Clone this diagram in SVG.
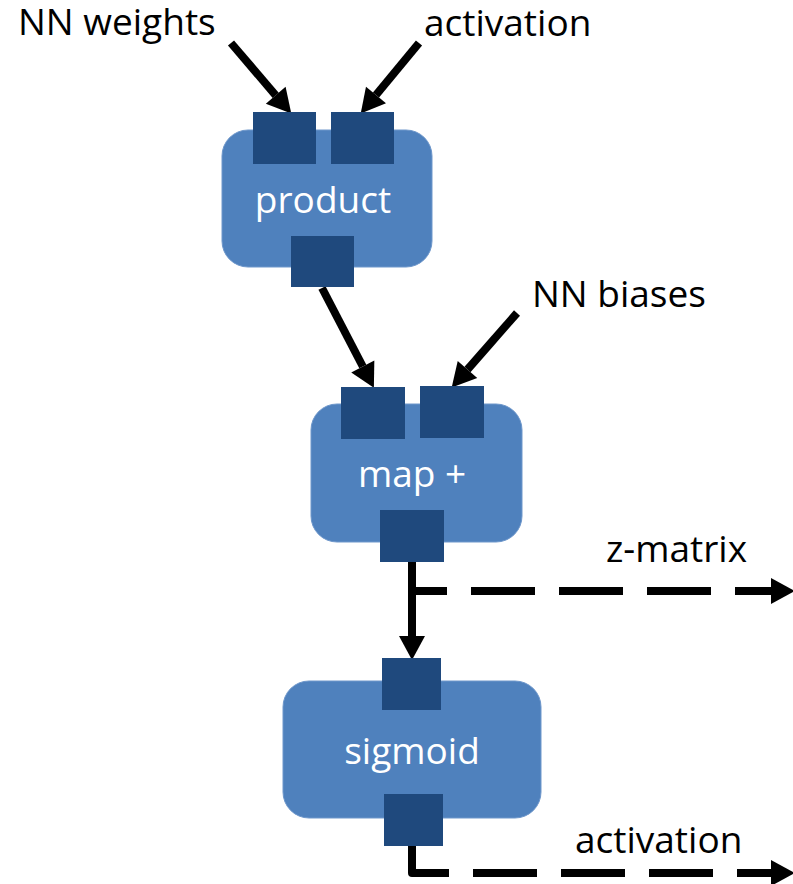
<svg xmlns="http://www.w3.org/2000/svg" width="793" height="884" viewBox="0 0 793 884">
  <style>
    .box { fill: #4F81BD; stroke: #6E97CB; stroke-width: 1; }
    .port { fill: #1F497D; }
    .label { font-family: "Open Sans", "Liberation Sans", sans-serif; font-size: 37px; fill: #000000; }
    .title { font-family: "Open Sans", "Liberation Sans", sans-serif; font-size: 37px; fill: #FFFFFF; text-anchor: middle; }
    .wire { fill: none; stroke: #000000; stroke-width: 8; }
    .dashed { fill: none; stroke: #000000; stroke-width: 8; stroke-dasharray: 64 24; stroke-linejoin: round; }
  </style>
  <defs>
    <marker id="head" markerUnits="userSpaceOnUse" markerWidth="26" markerHeight="28" refX="0" refY="13" orient="auto" overflow="visible">
      <path d="M0,0 L24,13 L0,26 z" fill="#000000"/>
    </marker>
  </defs>

  <!-- free-standing labels -->
  <text class="label" x="18" y="35">NN weights</text>
  <text class="label" x="424" y="36">activation</text>
  <text class="label" x="532" y="307">NN biases</text>
  <text class="label" x="606" y="562">z-matrix</text>
  <text class="label" x="575" y="853">activation</text>

  <!-- connectors -->
  <g id="connectors">
    <line class="wire" x1="231" y1="43" x2="275.7" y2="95.3" marker-end="url(#head)"/>
    <line class="wire" x1="419" y1="43" x2="376.0" y2="95.0" marker-end="url(#head)"/>
    <line class="wire" x1="322" y1="288" x2="362.8" y2="366.5" marker-end="url(#head)"/>
    <line class="wire" x1="517" y1="313" x2="467.5" y2="369.5" marker-end="url(#head)"/>
    <line class="wire" x1="412" y1="560" x2="412" y2="636" marker-end="url(#head)"/>
    <path class="dashed" d="M412,562 V591 H771" marker-end="url(#head)"/>
    <path class="dashed" d="M412,846 V873 H771" marker-end="url(#head)"/>
  </g>

  <!-- product node -->
  <g id="product">
    <rect class="box" x="222" y="130" width="210" height="137" rx="26"/>
    <rect class="port" x="253" y="112" width="63" height="52"/>
    <rect class="port" x="331" y="112" width="63" height="52"/>
    <rect class="port" x="291" y="236" width="63" height="51"/>
    <text class="title" x="323" y="213">product</text>
  </g>

  <!-- map + node -->
  <g id="map-plus">
    <rect class="box" x="311" y="404" width="211" height="138" rx="26"/>
    <rect class="port" x="341" y="387" width="64" height="52"/>
    <rect class="port" x="420" y="386" width="64" height="52"/>
    <rect class="port" x="380" y="510" width="64" height="52"/>
    <text class="title" x="412" y="487">map +</text>
  </g>

  <!-- sigmoid node -->
  <g id="sigmoid">
    <rect class="box" x="283" y="681" width="258" height="137" rx="26"/>
    <rect class="port" x="382" y="658" width="59" height="52"/>
    <rect class="port" x="384" y="794" width="59" height="52"/>
    <text class="title" x="412" y="764">sigmoid</text>
  </g>
</svg>
